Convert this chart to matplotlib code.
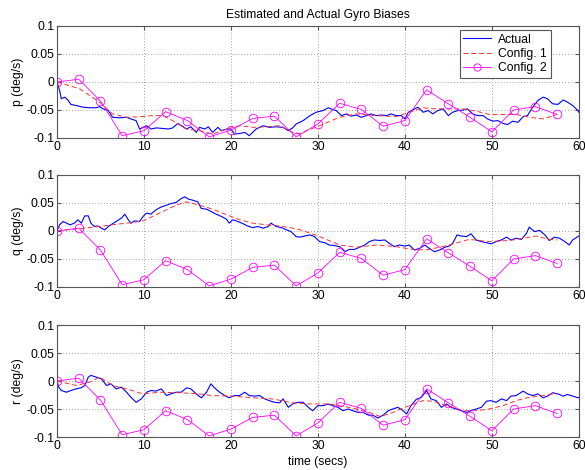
import matplotlib
matplotlib.use('Agg')
import matplotlib.pyplot as plt

# time axis ticks
x_ticks = [0, 10, 20, 30, 40, 50, 60]
y_ticks = [-0.1, -0.05, 0, 0.05, 0.1]
y_tick_labels = ['-0.1', '-0.05', '0', '0.05', '0.1']
axis_labels = ['p (deg/s)', 'q (deg/s)', 'r (deg/s)']

# actual bias, p axis
t_p = [0, 0.3, 0.5, 0.9, 1.3, 1.6, 2.2, 3.0, 3.75, 4.5,
       4.9, 5.3, 5.9, 6.4, 7.2, 8.0, 8.5, 9.1, 9.5, 9.9,
       10.3, 10.8, 11.4, 12.2, 12.8, 13.3, 13.9, 14.3, 14.9, 15.4,
       16.0, 16.4, 17.0, 17.4, 17.9, 18.5, 18.9, 19.5, 20.0, 20.4,
       21.0, 21.6, 22.1, 22.5, 22.9, 23.7, 24.4, 25.2, 26.0, 26.6,
       27.1, 27.5, 28.3, 29.1, 29.8, 30.6, 31.2, 31.5, 32.1, 32.7,
       33.3, 33.8, 34.4, 35.0, 35.6, 36.1, 36.7, 37.3, 37.9, 38.4,
       39.0, 39.6, 40.0, 40.4, 40.9, 41.5, 42.1, 42.7, 43.2, 43.8,
       44.4, 45.0, 45.5, 46.1, 46.7, 47.2, 47.8, 48.4, 49.0, 49.5,
       50.1, 50.7, 51.3, 51.8, 52.4, 53.0, 53.6, 54.1, 54.7, 55.3,
       55.9, 56.4, 57.0, 57.6, 58.2, 58.7, 59.3, 59.9, 60.0]
actual_p = [0, -0.015, -0.030, -0.027, -0.033, -0.040, -0.042, -0.045, -0.046, -0.046,
            -0.044, -0.048, -0.051, -0.063, -0.064, -0.063, -0.066, -0.069, -0.084, -0.081,
            -0.078, -0.084, -0.082, -0.083, -0.084, -0.082, -0.074, -0.078, -0.084, -0.080,
            -0.090, -0.081, -0.084, -0.080, -0.090, -0.081, -0.087, -0.084, -0.084, -0.093,
            -0.092, -0.090, -0.096, -0.090, -0.084, -0.078, -0.081, -0.080, -0.081, -0.087,
            -0.082, -0.075, -0.069, -0.060, -0.054, -0.051, -0.046, -0.048, -0.051, -0.060,
            -0.057, -0.061, -0.059, -0.063, -0.060, -0.057, -0.060, -0.059, -0.060, -0.057,
            -0.060, -0.060, -0.066, -0.054, -0.050, -0.045, -0.054, -0.051, -0.057, -0.051,
            -0.048, -0.060, -0.054, -0.051, -0.050, -0.048, -0.057, -0.060, -0.060, -0.066,
            -0.070, -0.069, -0.074, -0.076, -0.070, -0.072, -0.062, -0.060, -0.045, -0.033,
            -0.027, -0.030, -0.039, -0.040, -0.032, -0.036, -0.042, -0.051, -0.054]

# actual bias, q axis
t_q = [0, 0.3, 0.7, 1.1, 1.5, 2.0, 2.4, 2.8, 3.2, 3.6,
       3.9, 4.3, 4.7, 5.1, 5.5, 5.9, 6.2, 6.8, 7.4, 7.8,
       8.2, 8.5, 8.9, 9.5, 9.9, 10.3, 10.8, 11.4, 12.0, 12.6,
       13.1, 13.7, 14.3, 14.7, 15.1, 15.6, 16.2, 16.6, 17.2, 17.7,
       18.3, 18.9, 19.5, 19.8, 20.2, 20.8, 21.4, 21.9, 22.5, 23.1,
       23.7, 24.3, 24.6, 25.2, 25.8, 26.4, 26.9, 27.5, 27.9, 28.5,
       29.1, 29.6, 30.2, 30.8, 31.3, 31.9, 32.5, 33.1, 33.6, 34.2,
       34.8, 35.4, 35.9, 36.5, 37.1, 37.7, 38.2, 38.8, 39.4, 40.0,
       40.5, 41.1, 41.7, 42.3, 42.8, 43.4, 44.0, 44.6, 45.1, 45.5,
       46.0, 46.5, 47.1, 47.6, 48.2, 48.8, 49.4, 49.9, 50.5, 51.1,
       51.7, 52.2, 52.8, 53.4, 54.0, 54.3, 54.9, 55.5, 56.1, 56.6,
       57.2, 57.8, 58.4, 58.9, 59.3, 59.9, 60.0]
actual_q = [0, 0.011, 0.017, 0.014, 0.011, 0.014, 0.020, 0.014, 0.027, 0.027,
            0.014, 0.008, 0.009, 0.005, 0.002, 0.008, 0.011, 0.017, 0.023, 0.030,
            0.020, 0.014, 0.018, 0.017, 0.026, 0.032, 0.030, 0.038, 0.043, 0.046,
            0.049, 0.051, 0.058, 0.061, 0.057, 0.055, 0.052, 0.040, 0.039, 0.035,
            0.030, 0.026, 0.021, 0.014, 0.020, 0.017, 0.013, 0.009, 0.006, 0.008,
            0.005, 0.008, 0.014, 0.008, 0.006, 0.002, -0.001, -0.010, -0.011, -0.009,
            -0.007, -0.010, -0.019, -0.021, -0.025, -0.026, -0.028, -0.037, -0.033, -0.033,
            -0.029, -0.025, -0.019, -0.016, -0.017, -0.016, -0.022, -0.028, -0.025, -0.027,
            -0.025, -0.034, -0.031, -0.025, -0.031, -0.037, -0.034, -0.029, -0.027, -0.022,
            -0.007, -0.009, -0.010, -0.005, -0.016, -0.019, -0.021, -0.023, -0.019, -0.016,
            -0.011, -0.016, -0.013, -0.015, -0.004, 0.007, -0.001, 0.001, -0.007, -0.017,
            -0.011, -0.013, -0.019, -0.025, -0.016, -0.010, -0.009]

# actual bias, r axis
t_r = [0, 0.2, 0.5, 1.1, 1.6, 2.2, 2.8, 3.2, 3.6, 3.9,
       4.5, 5.1, 5.7, 6.2, 6.8, 7.4, 8.0, 8.5, 9.1, 9.7,
       10.3, 10.8, 11.4, 12.0, 12.6, 13.1, 13.7, 14.3, 14.9, 15.4,
       16.0, 16.6, 17.2, 17.7, 18.1, 18.7, 19.3, 19.8, 20.4, 21.0,
       21.6, 22.1, 22.7, 23.3, 23.9, 24.4, 25.0, 25.6, 26.0, 26.6,
       27.1, 27.7, 28.3, 28.9, 29.4, 30.0, 30.6, 31.2, 31.7, 32.3,
       32.9, 33.5, 34.0, 34.6, 35.2, 35.8, 36.3, 36.9, 37.5, 38.1,
       38.6, 39.2, 39.8, 40.2, 40.7, 41.3, 41.9, 42.5, 43.0, 43.6,
       44.2, 44.8, 45.3, 45.9, 46.5, 47.1, 47.6, 48.2, 48.8, 49.4,
       49.9, 50.5, 51.1, 51.7, 52.2, 52.8, 53.6, 54.1, 54.7, 55.3,
       55.9, 56.4, 57.0, 57.6, 58.2, 58.7, 59.3, 59.9, 60.0]
actual_r = [0, -0.011, -0.017, -0.020, -0.017, -0.014, -0.012, -0.008, 0.007, 0.010,
            0.007, 0.004, -0.008, -0.005, -0.014, -0.011, -0.020, -0.029, -0.038, -0.032,
            -0.020, -0.017, -0.018, -0.014, -0.026, -0.023, -0.020, -0.020, -0.012, -0.014,
            -0.023, -0.030, -0.020, -0.005, -0.012, -0.020, -0.026, -0.030, -0.026, -0.026,
            -0.020, -0.026, -0.027, -0.026, -0.032, -0.035, -0.038, -0.039, -0.032, -0.047,
            -0.041, -0.038, -0.038, -0.047, -0.053, -0.044, -0.044, -0.041, -0.044, -0.047,
            -0.053, -0.050, -0.053, -0.056, -0.056, -0.061, -0.061, -0.066, -0.061, -0.053,
            -0.050, -0.047, -0.053, -0.059, -0.044, -0.033, -0.029, -0.017, -0.032, -0.035,
            -0.047, -0.041, -0.047, -0.050, -0.053, -0.056, -0.053, -0.050, -0.047, -0.036,
            -0.035, -0.038, -0.032, -0.035, -0.027, -0.026, -0.018, -0.023, -0.026, -0.023,
            -0.030, -0.027, -0.021, -0.023, -0.027, -0.024, -0.027, -0.030, -0.029]

# configuration 1 estimates
t_c1_p = [0, 2.6, 4.9, 6.4, 8.0, 9.5, 11.0, 12.2, 13.3, 14.9,
          16.4, 17.9, 19.5, 21.0, 22.5, 24.1, 25.6, 27.1, 27.9, 30.2,
          32.5, 34.4, 36.7, 39.0, 40.5, 42.1, 43.6, 45.1, 46.7, 48.2,
          49.7, 51.3, 52.8, 54.3, 55.9, 57.5]
config1_p = [0, -0.012, -0.036, -0.057, -0.063, -0.062, -0.060, -0.060, -0.069, -0.084,
             -0.087, -0.093, -0.084, -0.078, -0.081, -0.080, -0.078, -0.090, -0.092, -0.078,
             -0.063, -0.057, -0.060, -0.062, -0.054, -0.046, -0.048, -0.048, -0.048, -0.052,
             -0.058, -0.058, -0.058, -0.063, -0.066, -0.058]
t_c1_q = [0, 3.0, 4.9, 6.8, 8.7, 9.9, 11.8, 13.7, 14.9, 16.4,
          17.9, 19.5, 21.0, 22.5, 24.1, 25.6, 27.1, 28.0, 30.2, 32.5,
          34.4, 36.7, 39.0, 41.3, 42.8, 45.1, 47.4, 49.7, 52.0, 53.6,
          55.1, 56.6, 57.5]
config1_q = [0, 0.005, 0.008, 0.012, 0.015, 0.018, 0.032, 0.046, 0.052, 0.046,
             0.039, 0.029, 0.020, 0.014, 0.011, 0.009, 0.005, 0.002, -0.010, -0.025,
             -0.029, -0.025, -0.028, -0.034, -0.033, -0.025, -0.015, -0.019, -0.017, -0.013,
             -0.009, -0.015, -0.016]
t_c1_r = [0, 2.2, 3.75, 4.9, 6.4, 8.0, 9.9, 11.8, 14.1, 16.4,
          17.9, 20.2, 22.5, 24.8, 27.1, 29.1, 31.3, 33.6, 35.9, 37.1,
          38.2, 40.0, 42.1, 43.2, 44.8, 46.7, 48.2, 49.7, 51.3, 52.8,
          54.3, 55.9, 57.0, 57.5]
config1_r = [0, -0.008, -0.002, 0.007, -0.008, -0.014, -0.023, -0.020, -0.021, -0.023,
             -0.026, -0.027, -0.030, -0.032, -0.039, -0.041, -0.041, -0.047, -0.056, -0.063,
             -0.059, -0.047, -0.035, -0.036, -0.044, -0.053, -0.053, -0.050, -0.044, -0.035,
             -0.029, -0.026, -0.023, -0.023]

# configuration 2 estimates (2.5 s updates)
t_c2 = [0, 2.5, 5, 7.5, 10, 12.5, 15, 17.5, 20, 22.5, 25, 27.5,
        30, 32.5, 35, 37.5, 40, 42.5, 45, 47.5, 50, 52.5, 55, 57.5]
config2 = [0, 0.005, -0.034, -0.096, -0.087, -0.053, -0.069, -0.098, -0.086, -0.065, -0.061, -0.098,
           -0.075, -0.038, -0.049, -0.079, -0.069, -0.014, -0.039, -0.063, -0.089, -0.050, -0.044, -0.058]

FS = 8.7
plt.rcParams['font.family'] = ['Liberation Sans', 'DejaVu Sans']
plt.rcParams['font.size'] = FS

fig = plt.figure(figsize=(5.85, 4.70), dpi=100)
bottoms = [0.7064, 0.3894, 0.0702]
axes = [fig.add_axes([0.0974, b, 0.892, 0.2383]) for b in bottoms]

series = [(t_p, actual_p, t_c1_p, config1_p),
          (t_q, actual_q, t_c1_q, config1_q),
          (t_r, actual_r, t_c1_r, config1_r)]

for ax, (ta, act, tc, c1), lab in zip(axes, series, axis_labels):
    ax.plot(ta, act, color='#0000ff', lw=0.8, label='Actual')
    ax.plot(tc, c1, color='#ff3030', lw=0.7, ls=(0, (5, 3)), label='Config. 1')
    ax.plot(t_c2, config2, color='#ff00ff', lw=0.6, marker='o', ms=6.2,
            mfc='none', mew=0.6, label='Config. 2')
    ax.set_xlim(0, 60)
    ax.set_ylim(-0.1, 0.1)
    ax.set_xticks(x_ticks)
    ax.set_yticks(y_ticks)
    ax.set_yticklabels(y_tick_labels)
    ax.grid(True, color='#808080', ls=(0, (1, 2.5)), lw=0.6)
    ax.tick_params(direction='in', length=3, top=True, right=True,
                   color='#555555', labelsize=FS, pad=2)
    for sp in ax.spines.values():
        sp.set_color('#555555')
        sp.set_linewidth(0.8)
    ax.set_ylabel(lab, fontsize=FS, labelpad=2)

axes[0].set_title('Estimated and Actual Gyro Biases', fontsize=FS, pad=6)
axes[2].set_xlabel('time (secs)', fontsize=FS, labelpad=3)

leg = axes[0].legend(loc='upper right', bbox_to_anchor=(0.946, 0.964),
                     borderaxespad=0, fancybox=False, framealpha=1,
                     edgecolor='#555555', handlelength=2.3, labelspacing=0.2,
                     borderpad=0.3, handletextpad=0.6, fontsize=FS,
                     markerscale=0.85)
leg.get_frame().set_linewidth(0.8)

fig.savefig('out.png', dpi=100)
